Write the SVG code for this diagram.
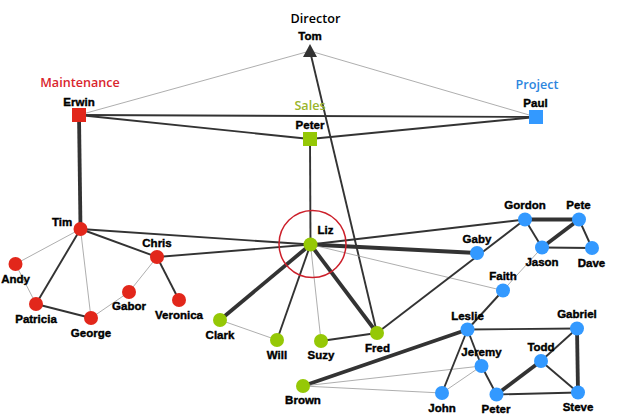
<svg xmlns="http://www.w3.org/2000/svg" width="621" height="417" viewBox="0 0 621 417">
<style>
text{font-family:"Liberation Sans",Arial,sans-serif;font-weight:700;font-size:11.5px;text-anchor:middle;fill:#000;stroke:#000;stroke-width:.4px}
text.t{font-family:"Open Sans","Noto Sans",sans-serif;font-weight:600;font-size:12.6px;stroke:none}
.r{fill:#E2271B}.g{fill:#95C806}.b{fill:#3399FF}.k{fill:#333}
#connectors line{stroke:#333;stroke-width:1.9}
#connectors line.f{stroke:#999;stroke-width:.8}
#connectors line.h{stroke-width:3.8}
</style>
<rect width="621" height="417" fill="#fff"/>
<g id="connectors">
<line class="f" x1="310" y1="51" x2="79" y2="115"/>
<line class="f" x1="310" y1="51" x2="536" y2="117"/>
<line x1="310" y1="51" x2="377" y2="333"/>
<line x1="79" y1="115" x2="536" y2="117"/>
<line x1="79" y1="115" x2="310" y2="139"/>
<line x1="310" y1="139" x2="536" y2="117"/>
<line x1="310" y1="139" x2="310.500" y2="244.500"/>
<line class="h" x1="79" y1="115" x2="80.500" y2="229"/>
<line class="f" x1="80.500" y1="229" x2="15.500" y2="264"/>
<line x1="80.500" y1="229" x2="36" y2="304"/>
<line class="f" x1="80.500" y1="229" x2="91" y2="318"/>
<line x1="80.500" y1="229" x2="157" y2="257"/>
<line x1="80.500" y1="229" x2="310.500" y2="244.500"/>
<line class="f" x1="15.500" y1="264" x2="36" y2="304"/>
<line x1="36" y1="304" x2="91" y2="318"/>
<line class="f" x1="91" y1="318" x2="129" y2="292"/>
<line class="f" x1="129" y1="292" x2="157" y2="257"/>
<line x1="157" y1="257" x2="179" y2="300"/>
<line x1="157" y1="257" x2="310.500" y2="244.500"/>
<line class="h" x1="310.500" y1="244.500" x2="220" y2="320"/>
<line x1="310.500" y1="244.500" x2="277" y2="340"/>
<line class="f" x1="310.500" y1="244.500" x2="321" y2="341"/>
<line class="h" x1="310.500" y1="244.500" x2="377" y2="333"/>
<line class="h" x1="310.500" y1="244.500" x2="477" y2="253"/>
<line x1="310.500" y1="244.500" x2="525" y2="219.500"/>
<line class="f" x1="310.500" y1="244.500" x2="503" y2="290.500"/>
<line class="f" x1="220" y1="320" x2="277" y2="340"/>
<line x1="321" y1="341" x2="377" y2="333"/>
<line x1="377" y1="333" x2="525" y2="219.500"/>
<line class="h" x1="303" y1="386" x2="467.500" y2="329.500"/>
<line class="f" x1="303" y1="386" x2="481.500" y2="366"/>
<line class="f" x1="303" y1="386" x2="442" y2="393"/>
<line x1="467.500" y1="329.500" x2="503" y2="290.500"/>
<line class="f" x1="503" y1="290.500" x2="542" y2="247.500"/>
<line x1="467.500" y1="329.500" x2="442" y2="393"/>
<line x1="467.500" y1="329.500" x2="481.500" y2="366"/>
<line x1="467.500" y1="329.500" x2="577" y2="328.500"/>
<line class="f" x1="481.500" y1="366" x2="442" y2="393"/>
<line x1="481.500" y1="366" x2="496.500" y2="394.500"/>
<line class="h" x1="496.500" y1="394.500" x2="541" y2="361"/>
<line x1="496.500" y1="394.500" x2="578" y2="392.500"/>
<line x1="541" y1="361" x2="578" y2="392.500"/>
<line x1="541" y1="361" x2="577" y2="328.500"/>
<line class="h" x1="577" y1="328.500" x2="578" y2="392.500"/>
<line class="h" x1="525" y1="219.500" x2="579" y2="219.500"/>
<line x1="525" y1="219.500" x2="542" y2="247.500"/>
<line class="h" x1="579" y1="219.500" x2="542" y2="247.500"/>
<line x1="579" y1="219.500" x2="592" y2="248"/>
<line x1="542" y1="247.500" x2="592" y2="248"/>
</g>
<circle id="highlight" cx="312.500" cy="244" r="33.500" fill="none" stroke="#CC1F2A" stroke-width="1.500"/>
<text class="t" x="315.500" y="23">Director</text>
<text class="t" x="80" y="87" style="fill:#D9252E">Maintenance</text>
<text class="t" x="310" y="110" style="fill:#9AB52B">Sales</text>
<text class="t" x="537" y="89" style="fill:#2E86DE">Project</text>
<g id="tom"><polygon class="k" points="310,44 317,57 303,57"/><text x="310" y="40">Tom</text></g>
<g id="erwin"><rect class="r" x="72" y="108" width="14" height="14"/><text x="79" y="105.500">Erwin</text></g>
<g id="peter-sales"><rect class="g" x="303" y="132" width="14" height="14"/><text x="310" y="129">Peter</text></g>
<g id="paul"><rect class="b" x="529" y="110" width="14" height="14"/><text x="535.500" y="107">Paul</text></g>
<g id="tim"><circle class="r" cx="80.500" cy="229" r="7"/><text x="62" y="226">Tim</text></g>
<g id="andy"><circle class="r" cx="15.500" cy="264" r="7"/><text x="15.500" y="283">Andy</text></g>
<g id="patricia"><circle class="r" cx="36" cy="304" r="7"/><text x="36" y="323">Patricia</text></g>
<g id="george"><circle class="r" cx="91" cy="318" r="7"/><text x="91" y="337">George</text></g>
<g id="gabor"><circle class="r" cx="129" cy="292" r="7"/><text x="129" y="310">Gabor</text></g>
<g id="chris"><circle class="r" cx="157" cy="257" r="7"/><text x="157" y="247">Chris</text></g>
<g id="veronica"><circle class="r" cx="179" cy="300" r="7"/><text x="179" y="319">Veronica</text></g>
<g id="liz"><circle class="g" cx="310.500" cy="244.500" r="7"/><text x="325.500" y="234">Liz</text></g>
<g id="clark"><circle class="g" cx="220" cy="320" r="7"/><text x="220" y="339">Clark</text></g>
<g id="will"><circle class="g" cx="277" cy="340" r="7"/><text x="277" y="359">Will</text></g>
<g id="suzy"><circle class="g" cx="321" cy="341" r="7"/><text x="321" y="359">Suzy</text></g>
<g id="fred"><circle class="g" cx="377" cy="333" r="7"/><text x="377.500" y="352">Fred</text></g>
<g id="brown"><circle class="g" cx="303" cy="386" r="7"/><text x="303" y="404">Brown</text></g>
<g id="gordon"><circle class="b" cx="525" cy="219.500" r="7"/><text x="525" y="209">Gordon</text></g>
<g id="pete"><circle class="b" cx="579" cy="219.500" r="7"/><text x="578.500" y="209">Pete</text></g>
<g id="jason"><circle class="b" cx="542" cy="247.500" r="7"/><text x="542" y="266">Jason</text></g>
<g id="dave"><circle class="b" cx="592" cy="248" r="7"/><text x="591.500" y="267">Dave</text></g>
<g id="gaby"><circle class="b" cx="477" cy="253" r="7"/><text x="477" y="243">Gaby</text></g>
<g id="faith"><circle class="b" cx="503" cy="290.500" r="7"/><text x="503" y="280">Faith</text></g>
<g id="leslie"><circle class="b" cx="467.500" cy="329.500" r="7"/><text x="467.500" y="319.500">Leslie</text></g>
<g id="gabriel"><circle class="b" cx="577" cy="328.500" r="7"/><text x="577" y="318">Gabriel</text></g>
<g id="jeremy"><circle class="b" cx="481.500" cy="366" r="7"/><text x="481.500" y="356">Jeremy</text></g>
<g id="todd"><circle class="b" cx="541" cy="361" r="7"/><text x="541" y="351">Todd</text></g>
<g id="john"><circle class="b" cx="442" cy="393" r="7"/><text x="442" y="411.500">John</text></g>
<g id="peter-project"><circle class="b" cx="496.500" cy="394.500" r="7"/><text x="496" y="413">Peter</text></g>
<g id="steve"><circle class="b" cx="578" cy="392.500" r="7"/><text x="578" y="411">Steve</text></g>
</svg>
